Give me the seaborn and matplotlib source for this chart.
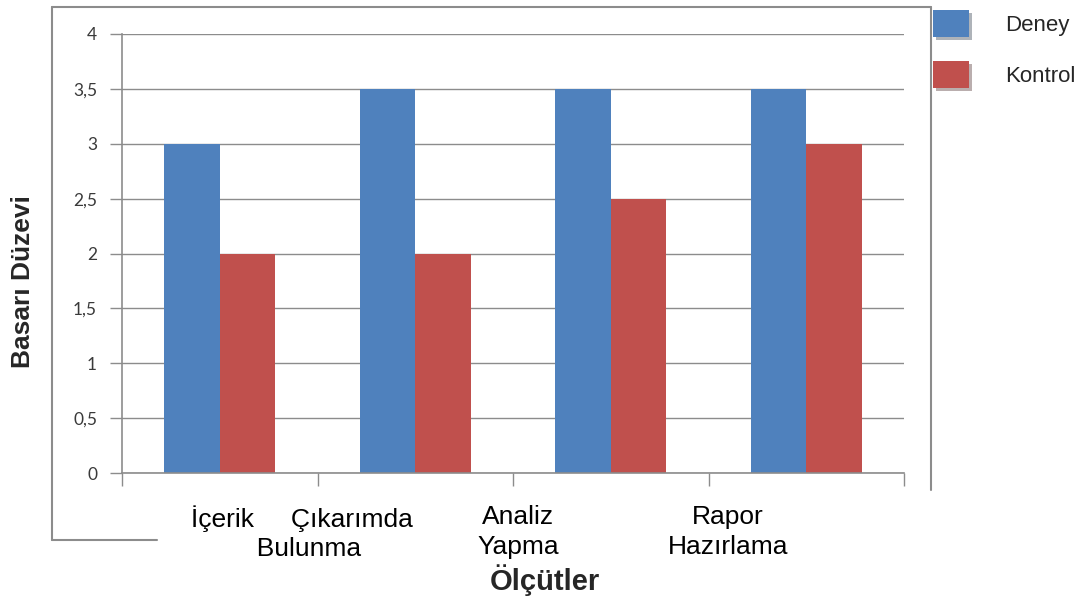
import numpy as np
import pandas as pd
import seaborn as sns
import matplotlib.pyplot as plt
import matplotlib.patheffects as pe
from matplotlib.lines import Line2D

# data
groups = ['G1', 'G2', 'G3', 'G4']
deney = [3.0, 3.5, 3.5, 3.5]
kontrol = [2.0, 2.0, 2.5, 3.0]
series = ['Deney', 'Kontrol']
colors = ['#4F81BD', '#C0504D']
yticks = [0, 0.5, 1, 1.5, 2, 2.5, 3, 3.5, 4]
ytick_labels = ['0', '0,5', '1', '1,5', '2', '2,5', '3', '3,5', '4']
# category labels as they sit (off-centre) in the original
cat_labels = ['İçerik     Çıkarımda\n  Bulunma', 'Analiz\nYapma', 'Rapor\nHazırlama']
cat_label_pos = [0.42, 1.525, 2.6]

df = pd.DataFrame({
    'grup': groups * 2,
    'seri': [series[0]] * len(groups) + [series[1]] * len(groups),
    'deger': deney + kontrol,
})

sns.set_style('white')
plt.rcParams['font.family'] = ['Liberation Sans', 'DejaVu Sans']

W, H = 1081, 599
fig = plt.figure(figsize=(W / 100, H / 100), dpi=100)
ax = fig.add_axes([122 / W, 1 - 473 / H, (904 - 122) / W, (473 - 34) / H])

sns.barplot(data=df, x='grup', y='deger', hue='seri', palette=colors,
            width=0.57, saturation=1, ax=ax, legend=False)
for p in ax.patches:
    p.set_edgecolor('none')

ax.set_xlim(-0.5, 3.5)
ax.set_ylim(0, 4)
ax.set_yticks(yticks)
ax.set_yticklabels(ytick_labels, fontsize=12.5, color='#3a3a3a', family='Lato')
ax.yaxis.grid(True, color='#8c8c8c', linewidth=1)
ax.set_axisbelow(True)
ax.tick_params(axis='y', length=9, color='#8c8c8c', width=1, pad=9, left=True)

ax.set_xticks(np.arange(-0.5, 4, 1), minor=True)
ax.set_xticks(cat_label_pos)
ax.set_xticklabels(cat_labels, fontsize=19, color='black', linespacing=1.3)
ax.tick_params(axis='x', which='major', length=0, pad=23)
ax.tick_params(axis='x', which='minor', length=9, color='#8c8c8c', width=1, bottom=True)

for s in ['top', 'right']:
    ax.spines[s].set_visible(False)
for s in ['left', 'bottom']:
    ax.spines[s].set_color('#8c8c8c')
    ax.spines[s].set_linewidth(1.2)

ax.set_xlabel('')
ax.set_ylabel('')
fig.text(545 / W, 1 - 580 / H, 'Ölçütler', fontsize=21, fontweight='bold',
         ha='center', va='center')
fig.text(23 / W, 1 - 282 / H, 'Basarı Düzevi', fontsize=19, fontweight='bold',
         rotation=90, ha='center', va='center')

# legend with large square keys
handles = [plt.Rectangle((0, 0), 1, 1, facecolor=c, edgecolor='none') for c in colors]
leg = fig.legend(handles, series, loc='upper left', bbox_to_anchor=(933 / W, 1 - 10 / H),
                 frameon=False, fontsize=16, handlelength=1.62, handleheight=1.49,
                 handletextpad=1.62, labelspacing=1.08, borderpad=0, borderaxespad=0)
for p in leg.get_patches():
    p.set_path_effects([pe.SimplePatchShadow(offset=(2.5, -2.5), alpha=0.35), pe.Normal()])

# outer chart frame (partly visible in the original)
frame = dict(color='#8c8c8c', linewidth=1.5, transform=fig.transFigure)
fig.add_artist(Line2D([52 / W, 52 / W], [1 - 7 / H, 1 - 540 / H], **frame))
fig.add_artist(Line2D([52 / W, 931 / W], [1 - 7 / H, 1 - 7 / H], **frame))
fig.add_artist(Line2D([931 / W, 931 / W], [1 - 7 / H, 1 - 490 / H], **frame))
fig.add_artist(Line2D([52 / W, 157 / W], [1 - 540 / H, 1 - 540 / H], **frame))

fig.savefig('out.png', dpi=100)
